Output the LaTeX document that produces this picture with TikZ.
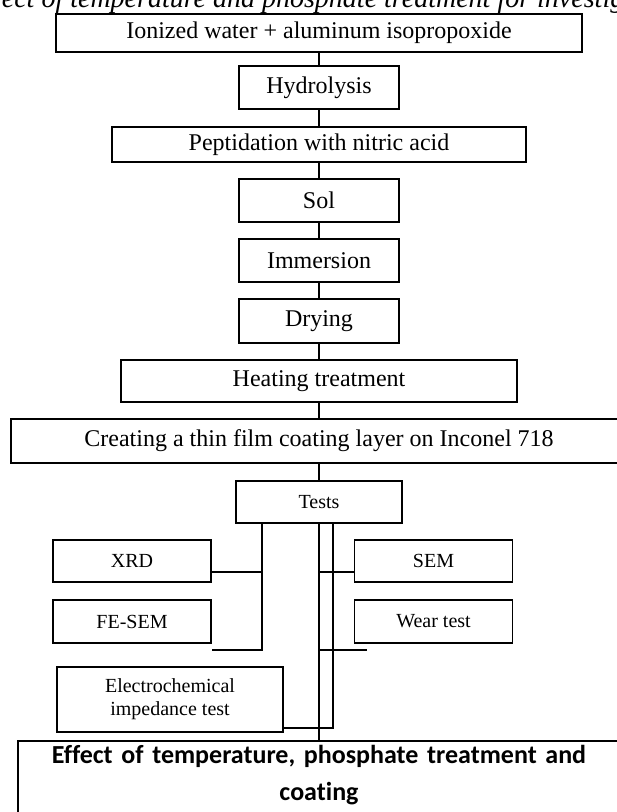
\documentclass[tikz,border=0pt]{standalone}
\usepackage{fontspec}
\setmainfont{Liberation Serif}
\newfontfamily\boldsans{Carlito}[Ligatures=NoCommon]
\tikzset{
	stage/.style={draw, line width=1.6pt, inner sep=0pt, minimum height=43pt, font=\fontsize{24}{28}\selectfont},
	testbox/.style={draw, line width=1.6pt, inner sep=0pt, minimum width=158pt, minimum height=43pt, font=\fontsize{20}{23}\selectfont},
	link/.style={line width=1.4pt},
}
\begin{document}
\begin{tikzpicture}[x=1pt, y=-1pt]
	\useasboundingbox (0,0) rectangle (617,812);
	\clip (0,0) rectangle (617,812);
	\node[font=\itshape\fontsize{28}{32}\selectfont, anchor=base west, inner sep=0pt] (title) at (-31,7) {Effect of temperature and phosphate treatment for investigation};
	\node[stage, minimum width=526pt, minimum height=38pt] (ion) at (319,33) {Ionized water + aluminum isopropoxide};
	\node[stage, minimum width=160pt] (hyd) at (319,87.5) {Hydrolysis};
	\node[stage, minimum width=414pt, minimum height=35pt] (pep) at (319,144.5) {Peptidation with nitric acid};
	\node[stage, minimum width=160pt] (sol) at (319,200.5) {Sol};
	\node[stage, minimum width=160pt] (imm) at (319,260.5) {Immersion};
	\node[stage, minimum width=160pt, minimum height=44pt] (dry) at (319,321) {Drying};
	\node[stage, minimum width=396pt, minimum height=42pt] (heat) at (319,381) {Heating treatment};
	\node[stage, minimum width=616pt, minimum height=44pt] (film) at (319,441) {Creating a thin film coating layer on Inconel 718};
	\node[testbox, minimum width=166pt, minimum height=42pt] (tests) at (319,502) {Tests};
	\node[testbox, minimum height=42pt] (xrd) at (132,561) {XRD};
	\node[testbox] (fesem) at (132,621.5) {FE-SEM};
	\node[testbox, minimum height=42pt] (sem) at (433.5,561) {SEM};
	\node[testbox] (wear) at (433.5,621.5) {Wear test};
	\node[testbox, minimum width=226pt, minimum height=65pt, align=center] (ech) at (170,699.5) {Electrochemical\\impedance test};
	\node[draw, line width=1.6pt, anchor=north, inner sep=4pt, text width=594pt, align=center, text depth=60pt, font=\boldsans\bfseries\fontsize{26}{37}\selectfont] (eff) at (319,740) {Effect of temperature, phosphate treatment and\\coating};
	\draw[link] (ion.south) -- (hyd.north); \draw[link] (hyd.south) -- (pep.north);
	\draw[link] (pep.south) -- (sol.north); \draw[link] (sol.south) -- (imm.north);
	\draw[link] (imm.south) -- (dry.north); \draw[link] (dry.south) -- (heat.north);
	\draw[link] (heat.south) -- (film.north); \draw[link] (film.south) -- (tests.north);
	\coordinate (xbend) at (262,650);
	\coordinate (ebend) at (333,728);
	\coordinate (wend) at (367,650);
	\draw[link] (tests.south -| xbend) -- (xbend) -- (xbend -| xrd.east);
	\draw[link] ([yshift=-11pt]xrd.east) -- ([yshift=-11pt]xrd.east -| xbend);
	\draw[link] (tests.south) -- (eff.north);
	\draw[link] (tests.south -| ebend) -- (ebend) -- (ebend -| ech.east);
	\draw[link] ([yshift=-11pt]sem.west) -- ([yshift=-11pt]sem.west -| tests.south);
	\draw[link] (wend -| tests.south) -- (wend);
\end{tikzpicture}
\end{document}
